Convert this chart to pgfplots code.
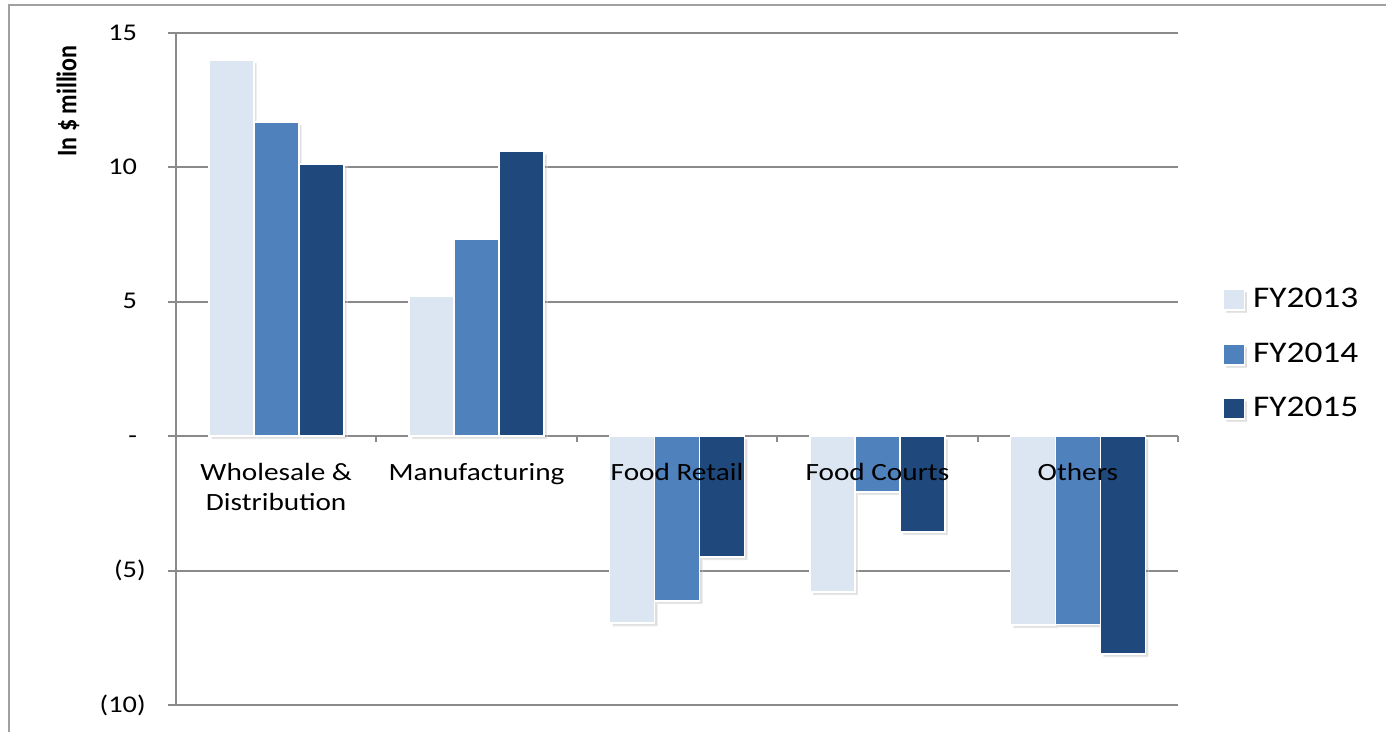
\documentclass[border=0pt]{standalone}
\usepackage{pgfplots}
\pgfplotsset{compat=1.18}
\usepackage{pgfplotstable}
\usepackage{fontspec}
\setmainfont{Carlito}[FakeStretch=1.18]
\newfontfamily\ylabfont{Carlito}
\usetikzlibrary{shadows}
\definecolor{c13}{RGB}{220,230,242}
\definecolor{c14}{RGB}{79,129,189}
\definecolor{c15}{RGB}{31,73,125}
\definecolor{gridc}{RGB}{138,138,138}
\definecolor{framec}{RGB}{160,160,160}

\tikzset{catlab/.style={anchor=north, align=center, inner sep=0pt, yshift=-13.5pt,
    font=\fontsize{12.4}{15}\selectfont}}

\pgfplotstableread{
x y13 y14 y15
0 14.0 11.69 10.12
1 5.21 7.33 10.6
2 -6.96 -6.14 -4.5
3 -5.8 -2.08 -3.57
4 -7.03 -7.0 -8.11
}\datatable

\begin{document}
\begin{tikzpicture}[x=1pt,y=1pt]
\draw[framec, line width=1pt] (4.5,-370) -- (4.5,-2.5) -- (700,-2.5);
\begin{axis}[
  at={(88pt,-352.5pt)}, anchor=south west,
  width=501pt, height=336pt, scale only axis,
  xmin=-0.5, xmax=4.5, ymin=-10, ymax=15,
  axis y line*=left, axis x line*=middle,
  axis line style={gridc, line width=1pt},
  ytick={-10,-5,0,5,10,15},
  yticklabels={(10),(5),-\phantom{)},5\phantom{)},10\phantom{)},15\phantom{)}},
  yticklabel style={font=\fontsize{12}{14}\selectfont, anchor=east, inner sep=0pt, xshift=-11pt},
  ytick style={gridc, line width=1pt},
  ytick align=outside,
  major tick length=4pt,
  minor tick length=3pt,
  ymajorgrids,
  grid style={gridc, line width=1pt},
  xtick={0,1,2,3,4},
  xticklabels={},
  major x tick style={draw=none},
  minor xtick={0.5,1.5,2.5,3.5,4.5},
  minor x tick style={draw=gridc, line width=1pt},
  xtick align=outside,
  clip=false,
  legend style={at={(1.044,0.522)}, anchor=west, draw=none, fill=none,
    font=\fontsize{15}{17}\selectfont, inner sep=0pt, row sep=12pt},
  legend cell align=left,
  legend image code/.code={\path (0pt,0pt) -- (12.5pt,0pt);\draw[#1] (0pt,-5.25pt) rectangle (10.5pt,5.25pt);},
]
\addplot[ybar, bar width=22.5pt, bar shift=-22.5pt, fill=c13, draw=white, line width=0.8pt,
  drop shadow={shadow xshift=1.5pt, shadow yshift=-1.5pt, opacity=0.25}]
  table[x=x,y=y13]{\datatable};
\addplot[ybar, bar width=22.5pt, bar shift=0pt, fill=c14, draw=white, line width=0.8pt,
  drop shadow={shadow xshift=1.5pt, shadow yshift=-1.5pt, opacity=0.25}]
  table[x=x,y=y14]{\datatable};
\addplot[ybar, bar width=22.5pt, bar shift=22.5pt, fill=c15, draw=white, line width=0.8pt,
  drop shadow={shadow xshift=1.5pt, shadow yshift=-1.5pt, opacity=0.25}]
  table[x=x,y=y15]{\datatable};
\legend{FY2013,FY2014,FY2015}
\node[catlab] at (axis cs:0,0) {Wholesale \&\\Distribution};
\node[catlab] at (axis cs:1,0) {Manufacturing};
\node[catlab] at (axis cs:2,0) {Food Retail};
\node[catlab] at (axis cs:3,0) {Food Courts};
\node[catlab] at (axis cs:4,0) {Others};
\end{axis}
\node[rotate=90] at (34,-50.5) {\scalebox{1}[1.18]{\ylabfont\bfseries\fontsize{12}{14}\selectfont In \$ million}};
\pgfresetboundingbox
\path[use as bounding box] (0,0) rectangle (693,-366);
\end{tikzpicture}
\end{document}
